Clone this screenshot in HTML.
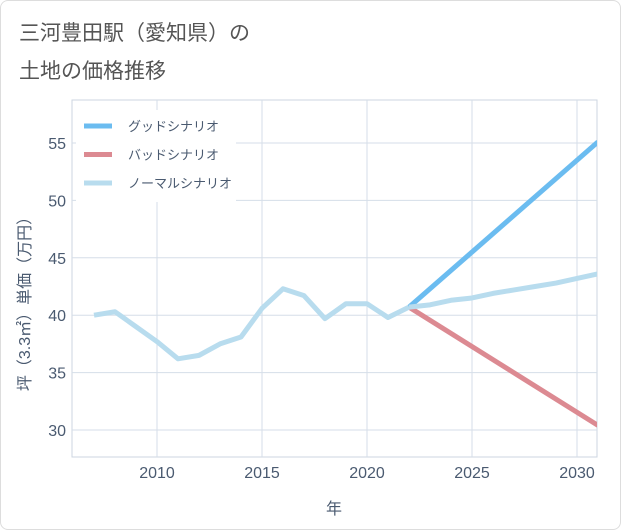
<!DOCTYPE html>
<html><head><meta charset="utf-8"><style>
body{margin:0;background:#fff;}
#c{position:relative;width:619px;height:528px;border:1px solid #ddd;border-radius:8px;overflow:hidden;background:#fff;font-family:"Liberation Sans","Noto Sans CJK JP",sans-serif;}
.t{position:absolute;left:18px;color:#555;font-size:21px;}
</style></head><body>
<div id="c">
<div class="t" style="top:16px">三河豊田駅（愛知県）の</div>
<div class="t" style="top:54px">土地の価格推移</div>
<svg id="s" width="621" height="530" style="position:absolute;left:-1px;top:-1px"></svg>
</div>
<script>
const years=[2007,2008,2009,2010,2011,2012,2013,2014,2015,2016,2017,2018,2019,2020,2021,2022];
const histVals=[40,40.3,39,37.7,36.2,36.5,37.5,38.1,40.6,42.3,41.7,39.7,41,41,39.8,40.7];
const futYears=[2022,2031];
const goodVals=[40.7,55.1];
const badVals=[40.7,30.4];
const normYears=[2022,2023,2024,2025,2026,2027,2028,2029,2030,2031];
const normVals=[40.7,40.9,41.3,41.5,41.9,42.2,42.5,42.8,43.2,43.6];
const xTicks=[2010,2015,2020,2025,2030];
const yTicks=[30,35,40,45,50,55];
const NS="http://www.w3.org/2000/svg";
const svg=document.getElementById('s');
const X0=72,X1=597,Y0=100,Y1=457;
const x=v=>157+(v-2010)*21;
const y=v=>430-(v-30)*11.48;
function el(t,a){const e=document.createElementNS(NS,t);for(const k in a)e.setAttribute(k,a[k]);svg.appendChild(e);return e;}
let r=el('rect',{x:X0,y:Y0,width:X1-X0,height:Y1-Y0,fill:'#fff',stroke:'#ccd6e0'});


xTicks.forEach(v=>{let l=el('line',{x1:x(v),x2:x(v),y1:Y0,y2:Y1,stroke:'#d5dee8'});


let t=el('text',{x:x(v),y:478,'text-anchor':'middle','font-size':16,fill:'#4a5a70'});t.textContent=v;

});
yTicks.forEach(v=>{let l=el('line',{x1:X0,x2:X1,y1:y(v),y2:y(v),stroke:'#d5dee8'});


let t=el('text',{x:66,y:y(v)+6,'text-anchor':'end','font-size':16,fill:'#4a5a70'});t.textContent=v;

});
let xt=el('text',{x:334,y:514,'text-anchor':'middle','font-size':16,fill:'#4a5a70'});xt.textContent='年';


let yt=el('text',{x:0,y:0,'text-anchor':'middle','font-size':16,fill:'#4a5a70',transform:'translate(30,300) rotate(-90)'});yt.textContent='坪（3.3㎡）単価（万円）';


function line(xs,vs,c,n){let p=el('polyline',{points:xs.map((v,i)=>x(v)+','+y(vs[i])).join(' '),fill:'none',stroke:c,'stroke-width':5,'stroke-linejoin':'round','clip-path':'url(#cp)'});

}
let cp=el('clipPath',{id:'cp'});cp.innerHTML='<rect x="72" y="100" width="525" height="357"/>';
line(futYears,goodVals,'#6bbcf0','good-scenario-line');
line(futYears,badVals,'#dc8a92','bad-scenario-line');
line(normYears,normVals,'#b8dcee','normal-scenario-line');
line(years,histVals,'#b8dcee','historical-line');
let lb=el('rect',{x:76,y:110,width:160,height:92,fill:'#fff'});


[['グッドシナリオ','#6bbcf0'],['バッドシナリオ','#dc8a92'],['ノーマルシナリオ','#b8dcee']].forEach((d,i)=>{
let yy=126+i*28.5;
let l=el('line',{x1:84,x2:112,y1:yy,y2:yy,stroke:d[1],'stroke-width':5});


let t=el('text',{x:128,y:yy+5,'font-size':13,fill:'#4a5a70'});t.textContent=d[0];

});
</script>
</body></html>
